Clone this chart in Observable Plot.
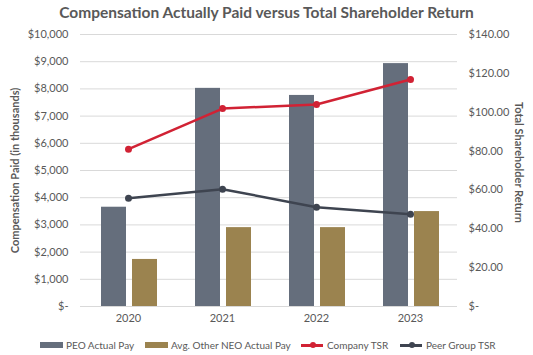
<!DOCTYPE html>
<html>
<head>
<meta charset="utf-8">
<script src="https://cdn.jsdelivr.net/npm/d3@7"></script>
<script src="https://cdn.jsdelivr.net/npm/@observablehq/plot@0.6"></script>
<style>
  html, body { margin: 0; padding: 0; background: #fff; }
  #wrap { position: relative; width: 533px; height: 355px; overflow: hidden; font-family: Lato, "Open Sans", sans-serif; color: #595959; }
  #title { position: absolute; left: 0; top: 1px; width: 533px; text-align: center; font-weight: bold; font-size: 15.5px; line-height: 22px; color: #595959; }
  #chart { position: absolute; left: 0; top: 0; }
  .leg { position: absolute; top: 338px; height: 14px; font-size: 10px; line-height: 14px; white-space: nowrap; }
  .sw { position: absolute; top: 4px; width: 23px; height: 6px; }
  .ln { position: absolute; top: 5.5px; width: 22px; height: 3px; }
  .mk { position: absolute; top: 4px; left: 8.5px; width: 6px; height: 6px; border-radius: 50%; }
</style>
</head>
<body>
<div id="wrap">
  <div id="title">Compensation Actually Paid versus Total Shareholder Return</div>
  <div id="chart"></div>
  <div id="legend"></div>
</div>
<script>
// ---- data ----
const years = ["2020", "2021", "2022", "2023"];
const peoPay = [3650, 8020, 7760, 8930];          // PEO Actual Pay ($ thousands)
const neoPay = [1730, 2900, 2900, 3490];          // Avg. Other NEO Actual Pay ($ thousands)
const companyTSR = [81.0, 101.9, 104.0, 116.8];   // Company TSR
const peerTSR = [55.7, 60.4, 51.1, 47.5];         // Peer Group TSR
const compTicks = [0, 1000, 2000, 3000, 4000, 5000, 6000, 7000, 8000, 9000, 10000];
const tsrTicks = [0, 20, 40, 60, 80, 100, 120, 140];
const seriesNames = ["PEO Actual Pay", "Avg. Other NEO Actual Pay", "Company TSR", "Peer Group TSR"];
const colors = { peo: "#656e7c", neo: "#9b834f", company: "#d12234", peer: "#3e4450" };

const COMP_MAX = 10000, TSR_MAX = 140;
const toComp = v => v * COMP_MAX / TSR_MAX;

const fmtComp = d => d === 0 ? "$-" : "$" + d3.format(",")(d);
const fmtTSR = d => { const v = Math.round(d * TSR_MAX / COMP_MAX); return v === 0 ? "$-" : "$" + v.toFixed(2); };

const rows = years.map((y, i) => ({ year: y, peo: peoPay[i], neo: neoPay[i], company: toComp(companyTSR[i]), peer: toComp(peerTSR[i]) }));

const chart = Plot.plot({
  width: 533,
  height: 355,
  marginTop: 34,
  marginBottom: 49,
  marginLeft: 80,
  marginRight: 76,
  style: { fontFamily: "Lato, 'Open Sans', sans-serif", fontSize: "11px", color: "#595959", background: "transparent" },
  x: { type: "band", domain: years, padding: 0, axis: null },
  y: { domain: [0, COMP_MAX], axis: null },
  marks: [
    Plot.gridY(compTicks, { stroke: "#d9d9d9", strokeOpacity: 1, strokeWidth: 1 }),
    Plot.barY(rows, { x: "year", y: "peo", fill: colors.peo, insetLeft: 20, insetRight: 49 }),
    Plot.barY(rows, { x: "year", y: "neo", fill: colors.neo, insetLeft: 51, insetRight: 18 }),
    Plot.line(rows, { x: "year", y: "company", stroke: colors.company, strokeWidth: 2.5 }),
    Plot.dot(rows, { x: "year", y: "company", r: 3.5, fill: colors.company }),
    Plot.line(rows, { x: "year", y: "peer", stroke: colors.peer, strokeWidth: 2.5 }),
    Plot.dot(rows, { x: "year", y: "peer", r: 3.5, fill: colors.peer }),
    Plot.axisY(compTicks, { anchor: "left", tickSize: 0, tickPadding: 12, tickFormat: fmtComp, label: null, fontSize: 11, fill: "#595959" }),
    Plot.axisY(tsrTicks.map(toComp), { anchor: "right", tickSize: 0, tickPadding: 11, tickFormat: fmtTSR, label: null, fontSize: 11, fill: "#595959" }),
    Plot.axisX({ tickSize: 0, tickPadding: 8, label: null, fontSize: 11, fill: "#595959" }),
    Plot.text(["Compensation Paid (in thousands)"], { frameAnchor: "left", textAnchor: "middle", lineAnchor: "middle", dx: -65, rotate: -90, fontWeight: "bold", fontSize: 11, fill: "#595959" }),
    Plot.text(["Total Shareholder Return"], { frameAnchor: "right", textAnchor: "middle", lineAnchor: "middle", dx: 61, dy: -8, rotate: 90, fontWeight: "bold", fontSize: 11, fill: "#595959" })
  ]
});
document.getElementById("chart").appendChild(chart);

// ---- legend ----
const legendItems = [
  { name: seriesNames[0], kind: "bar", color: colors.peo, x: 40 },
  { name: seriesNames[1], kind: "bar", color: colors.neo, x: 145 },
  { name: seriesNames[2], kind: "line", color: colors.company, x: 301 },
  { name: seriesNames[3], kind: "line", color: colors.peer, x: 400 }
];
const legend = document.getElementById("legend");
legendItems.forEach(it => {
  const el = document.createElement("div");
  el.className = "leg";
  el.style.left = it.x + "px";
  let sym;
  if (it.kind === "bar") {
    sym = `<span class="sw" style="left:0;background:${it.color}"></span>`;
  } else {
    sym = `<span class="ln" style="left:0;background:${it.color}"></span><span class="mk" style="background:${it.color}"></span>`;
  }
  el.innerHTML = sym + `<span style="position:relative;left:26px">${it.name}</span>`;
  legend.appendChild(el);
});
</script>
</body>
</html>
